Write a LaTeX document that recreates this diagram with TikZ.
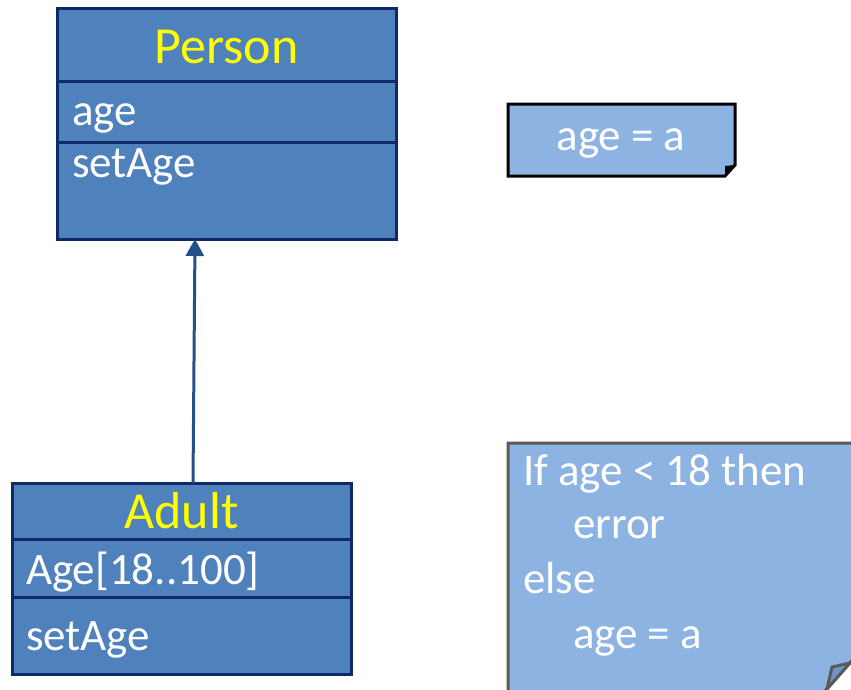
\documentclass[tikz,border=0pt]{standalone}
\usepackage{fontspec}
\setmainfont{Carlito}
\usetikzlibrary{arrows.meta}

\definecolor{c4f81bd}{RGB}{79,129,189}
\definecolor{c0c2a66}{RGB}{12,42,102}
\definecolor{c24508a}{RGB}{36,80,138}
\definecolor{c8db3e2}{RGB}{141,179,226}
\definecolor{c595959}{RGB}{89,89,89}
\definecolor{c6f95c8}{RGB}{111,149,200}
\definecolor{cffff00}{RGB}{255,255,0}

\tikzset{
  umlbox/.style={draw=c0c2a66,fill=c4f81bd,line width=3pt,minimum width=339pt},
  umltxt/.style={text=white,font=\fontsize{45}{54}\selectfont},
  umlname/.style={text=cffff00,font=\fontsize{52}{60}\selectfont},
  notetxt/.style={text=white,font=\fontsize{45}{54}\selectfont}
}

\begin{document}
\begin{tikzpicture}[y=1pt, x=1pt, yscale=-1, inner sep=0pt, outer sep=0pt]
\useasboundingbox (0,0) rectangle (851,689);
\clip (0,0) rectangle (851,689);

% class Person
\node[umlbox,minimum height=73pt] (personhead) at (226.5,44.5) {};
\node[umlbox,minimum height=61pt] (personattr) at (226.5,111.5) {};
\node[umlbox,minimum height=97pt] (personops) at (226.5,190.5) {};
\node[umlname,anchor=base] (personname) at (226.5,63) {Person};
\node[umltxt,anchor=base west] (personage) at (72,125) {age};
\node[umltxt,anchor=base west] (personset) at (72,177) {setAge};

% class Adult
\node[umlbox,minimum height=56pt] (adulthead) at (181.5,511) {};
\node[umlbox,minimum height=58pt] (adultattr) at (181.5,568) {};
\node[umlbox,minimum height=77pt] (adultops) at (181.5,635.5) {};
\node[umlname,anchor=base] (adultname) at (181.5,528) {Adult};
\node[umltxt,anchor=base west] (adultage) at (26,584) {Age[18..100]};
\node[umltxt,anchor=base west] (adultset) at (26,650) {setAge};

% inheritance
\draw[draw=c24508a,line width=3pt,-{Triangle[width=18pt,length=17pt]}]
  ([xshift=11.5pt]adulthead.north) -- ([xshift=-31.5pt]personops.south);

% note of Person.setAge
\path[fill=c8db3e2,draw=black,line width=3pt,line join=miter] (508,104) --
  (735,104) -- (735,165) -- (725,176) -- (508,176) -- cycle;
\path[fill=black] (735,165) -- (725,166) -- (725,176) -- cycle;
\node[notetxt,anchor=base] (noteperson) at (621,150) {age = a};

% note of Adult.setAge
\path[fill=c8db3e2,draw=c595959,line width=3pt,line join=miter] (508,443) --
  (870,443) -- (870,640) -- (817,700) -- (508,700) -- cycle;
\path[fill=c6f95c8,draw=c595959,line width=3pt,line join=miter] (832,667) --
  (850,663) -- (827,689) -- cycle;
\node[notetxt,anchor=base west] (noteif) at (523,485) {If age < 18 then};
\node[notetxt,anchor=base west] (noteerror) at (573,538) {error};
\node[notetxt,anchor=base west] (noteelse) at (523,593) {else};
\node[notetxt,anchor=base west] (noteset) at (573,648) {age = a};
\end{tikzpicture}
\end{document}
